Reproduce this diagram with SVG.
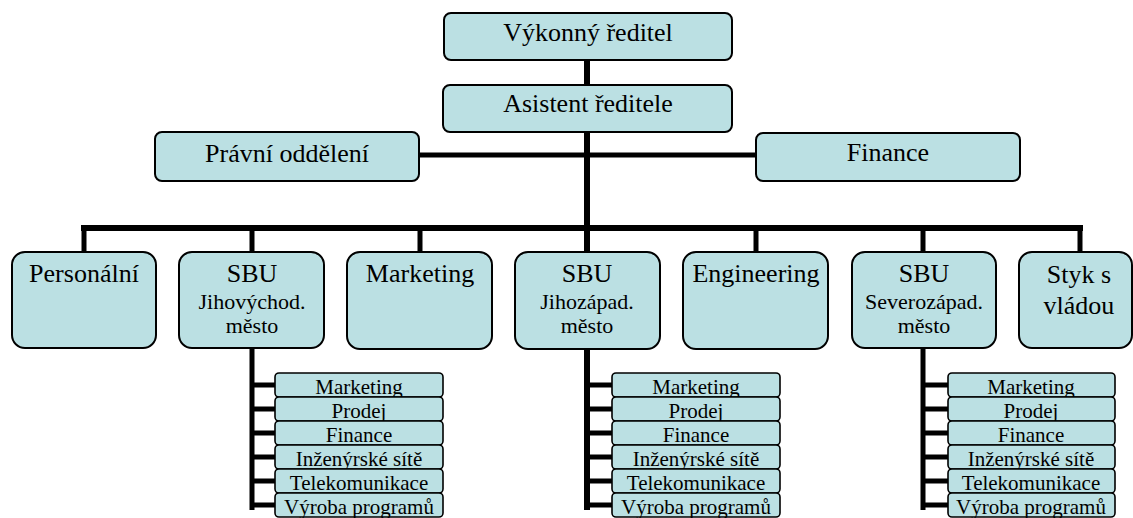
<svg xmlns="http://www.w3.org/2000/svg" width="1133" height="518" viewBox="0 0 1133 518">
<style>
.b{fill:#BBE0E3;stroke:#000;stroke-width:2}
.s{fill:#BBE0E3;stroke:#000;stroke-width:1.6}
text{font-family:"Liberation Serif","Times New Roman",serif;fill:#000;text-anchor:middle}
.t24{font-size:26px}
.t20{font-size:22px}
.t18{font-size:21px}
.c{stroke:#000;fill:none;stroke-linecap:butt}
</style>
<rect width="1133" height="518" fill="#fff"/>
<g id="connectors">
<path class="c" stroke-width="6" d="M587 60V510"/>
<path class="c" stroke-width="5" d="M419 155H756"/>
<path class="c" stroke-width="6" d="M81 228H1083"/>
<path class="c" stroke-width="5" d="M84 226V252M252 226V510M420 226V252M756 226V252M923 226V510M1080 226V252"/>
<path class="c" stroke-width="5" d="M250 385H276M250 409H276M250 433H276M250 457H276M250 481H276M250 505H276"/>
<path class="c" stroke-width="5" d="M585 385H613M585 409H613M585 433H613M585 457H613M585 481H613M585 505H613"/>
<path class="c" stroke-width="5" d="M921 385H949M921 409H949M921 433H949M921 457H949M921 481H949M921 505H949"/>
</g>
<g id="ceo"><rect class="b" x="444" y="13" width="288" height="47" rx="7"/><text class="t24" x="588" y="41">Výkonný ředitel</text></g>
<g id="assistant"><rect class="b" x="443" y="85" width="289" height="47" rx="7"/><text class="t24" x="588" y="112">Asistent ředitele</text></g>
<g id="legal"><rect class="b" x="155" y="132" width="264" height="49" rx="7"/><text class="t24" x="287" y="162">Právní oddělení</text></g>
<g id="finance"><rect class="b" x="756" y="133" width="264" height="48" rx="7"/><text class="t24" x="888" y="161">Finance</text></g>
<g id="personal"><rect class="b" x="12" y="252" width="144" height="96" rx="13"/><text class="t24" x="84" y="282">Personální</text></g>
<g id="sbu-jv"><rect class="b" x="179" y="252" width="145" height="96" rx="13"/><text class="t24" x="252" y="282">SBU</text><text class="t20" x="252" y="309">Jihovýchod.</text><text class="t20" x="252" y="333">město</text></g>
<g id="marketing"><rect class="b" x="347" y="252" width="145" height="97" rx="13"/><text class="t24" x="420" y="282">Marketing</text></g>
<g id="sbu-jz"><rect class="b" x="515" y="252" width="145" height="97" rx="13"/><text class="t24" x="587" y="282">SBU</text><text class="t20" x="587" y="309">Jihozápad.</text><text class="t20" x="587" y="333">město</text></g>
<g id="engineering"><rect class="b" x="683" y="252" width="145" height="97" rx="13"/><text class="t24" x="756" y="282">Engineering</text></g>
<g id="sbu-sz"><rect class="b" x="852" y="252" width="144" height="96" rx="13"/><text class="t24" x="924" y="282">SBU</text><text class="t20" x="924" y="309">Severozápad.</text><text class="t20" x="924" y="333">město</text></g>
<g id="styk"><rect class="b" x="1019" y="252" width="113" height="96" rx="13"/><text class="t24" x="1079" y="283">Styk s</text><text class="t24" x="1079" y="314">vládou</text></g>
<g id="jv-marketing"><rect class="s" x="275" y="373" width="168" height="24" rx="4"/><text class="t18" x="359" y="394">Marketing</text></g>
<g id="jv-prodej"><rect class="s" x="275" y="397" width="168" height="24" rx="4"/><text class="t18" x="359" y="418">Prodej</text></g>
<g id="jv-finance"><rect class="s" x="275" y="421" width="168" height="24" rx="4"/><text class="t18" x="359" y="442">Finance</text></g>
<g id="jv-site"><rect class="s" x="275" y="445" width="168" height="24" rx="4"/><text class="t18" x="359" y="466">Inženýrské sítě</text></g>
<g id="jv-telekom"><rect class="s" x="275" y="469" width="168" height="24" rx="4"/><text class="t18" x="359" y="490">Telekomunikace</text></g>
<g id="jv-vyroba"><rect class="s" x="275" y="493" width="168" height="24" rx="4"/><text class="t18" x="359" y="514">Výroba programů</text></g>
<g id="jz-marketing"><rect class="s" x="612" y="373" width="168" height="24" rx="4"/><text class="t18" x="696" y="394">Marketing</text></g>
<g id="jz-prodej"><rect class="s" x="612" y="397" width="168" height="24" rx="4"/><text class="t18" x="696" y="418">Prodej</text></g>
<g id="jz-finance"><rect class="s" x="612" y="421" width="168" height="24" rx="4"/><text class="t18" x="696" y="442">Finance</text></g>
<g id="jz-site"><rect class="s" x="612" y="445" width="168" height="24" rx="4"/><text class="t18" x="696" y="466">Inženýrské sítě</text></g>
<g id="jz-telekom"><rect class="s" x="612" y="469" width="168" height="24" rx="4"/><text class="t18" x="696" y="490">Telekomunikace</text></g>
<g id="jz-vyroba"><rect class="s" x="612" y="493" width="168" height="24" rx="4"/><text class="t18" x="696" y="514">Výroba programů</text></g>
<g id="sz-marketing"><rect class="s" x="948" y="373" width="167" height="24" rx="4"/><text class="t18" x="1031" y="394">Marketing</text></g>
<g id="sz-prodej"><rect class="s" x="948" y="397" width="167" height="24" rx="4"/><text class="t18" x="1031" y="418">Prodej</text></g>
<g id="sz-finance"><rect class="s" x="948" y="421" width="167" height="24" rx="4"/><text class="t18" x="1031" y="442">Finance</text></g>
<g id="sz-site"><rect class="s" x="948" y="445" width="167" height="24" rx="4"/><text class="t18" x="1031" y="466">Inženýrské sítě</text></g>
<g id="sz-telekom"><rect class="s" x="948" y="469" width="167" height="24" rx="4"/><text class="t18" x="1031" y="490">Telekomunikace</text></g>
<g id="sz-vyroba"><rect class="s" x="948" y="493" width="167" height="24" rx="4"/><text class="t18" x="1031" y="514">Výroba programů</text></g>
</svg>
